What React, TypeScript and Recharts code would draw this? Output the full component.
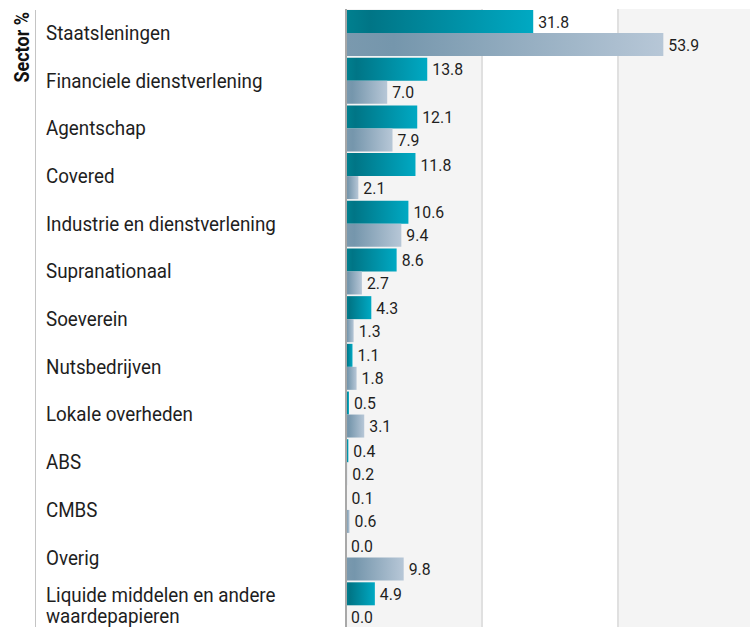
import React from 'react';
import { BarChart, Bar, XAxis, YAxis, CartesianGrid, LabelList, Text } from 'recharts';

const categories = [
  'Staatsleningen',
  'Financiele dienstverlening',
  'Agentschap',
  'Covered',
  'Industrie en dienstverlening',
  'Supranationaal',
  'Soeverein',
  'Nutsbedrijven',
  'Lokale overheden',
  'ABS',
  'CMBS',
  'Overig',
  'Liquide middelen en andere waardepapieren',
];
const fundValues = [31.8, 13.8, 12.1, 11.8, 10.6, 8.6, 4.3, 1.1, 0.5, 0.4, 0.1, 0.0, 4.9];
const benchmarkValues = [53.9, 7.0, 7.9, 2.1, 9.4, 2.7, 1.3, 1.8, 3.1, 0.2, 0.6, 9.8, 0.0];
const xTicks = [0, 23.1, 46.2, 69.3];
const axisTitle = 'Sector %';

const data = categories.map((name, i) => ({ name, fund: fundValues[i], bench: benchmarkValues[i] }));

const FONT = 'Roboto, "Noto Sans", sans-serif';
const SQ = 0.94;

const CategoryTick = (props: any) => {
  const { y, payload } = props;
  const x0 = 46;
  return (
    <g transform={`translate(${x0} 0) scale(${SQ} 1)`}>
      <Text
        x={0}
        y={y}
        width={300}
        textAnchor="start"
        verticalAnchor="middle"
        lineHeight="1.07em"
        fill="#1e1e1e"
        fontSize={20}
        fontFamily={FONT}
        style={{ fontFamily: FONT, fontSize: 20 }}
      >
        {payload.value}
      </Text>
    </g>
  );
};

const AxisTitle = (props: any) => {
  const vb = props.viewBox || { y: 9, height: 620 };
  return (
    <g>
      <line x1={35.5} x2={35.5} y1={vb.y + 1} y2={vb.y + vb.height + 20} stroke="#c4c4c4" strokeWidth={1} />
      <text
        x={0}
        y={0}
        transform="translate(28.5 12) rotate(-90) scale(0.9 1)"
        textAnchor="end"
        fontFamily={FONT}
        fontSize={20}
        fontWeight="bold"
        fill="#111"
      >
        {axisTitle}
      </text>
    </g>
  );
};

const ValueLabel = (props: any) => {
  const { x, y, width, height, value } = props;
  if (value == null) return null;
  const lx = Number(x) + Math.max(0, Number(width) || 0) + 5;
  const ly = Number(y) + Number(height) / 2;
  return (
    <text
      x={0}
      y={0}
      transform={`translate(${lx} ${ly}) scale(0.93 1)`}
      dy="0.355em"
      textAnchor="start"
      fontFamily={FONT}
      fontSize={17}
      fill="#1e1e1e"
    >
      {Number(value).toFixed(1)}
    </text>
  );
};

export default function App() {
  return (
    <div style={{ position: 'fixed', left: 0, top: 0, width: 750, height: 627, overflow: 'hidden', background: '#fff' }}>
      <BarChart
        width={760}
        height={640}
        data={data}
        layout="vertical"
        margin={{ top: 9, right: 6, bottom: 11, left: 0 }}
        barCategoryGap={1}
        barGap={0}
      >
        <defs>
          <linearGradient id="gTeal" x1="0" y1="0" x2="1" y2="0">
            <stop offset="0" stopColor="#00808f" />
            <stop offset="0.13" stopColor="#007586" />
            <stop offset="1" stopColor="#00a9c3" />
          </linearGradient>
          <linearGradient id="gGrey" x1="0" y1="0" x2="1" y2="0">
            <stop offset="0" stopColor="#7a99ae" />
            <stop offset="0.15" stopColor="#7596ac" />
            <stop offset="1" stopColor="#b7c7d7" />
          </linearGradient>
        </defs>
        <CartesianGrid
          horizontal={false}
          vertical={true}
          stroke="#e0e0e0"
          strokeWidth={2}
          verticalFill={['#f4f4f4', '#ffffff', '#f4f4f4']}
        />
        <XAxis type="number" domain={[0, 69.3]} ticks={xTicks} hide />
        <Bar dataKey="fund" fill="url(#gTeal)" minPointSize={0.01} isAnimationActive={false}>
          <LabelList dataKey="fund" content={<ValueLabel />} />
        </Bar>
        <Bar dataKey="bench" fill="url(#gGrey)" minPointSize={0.01} isAnimationActive={false}>
          <LabelList dataKey="bench" content={<ValueLabel />} />
        </Bar>
        <YAxis
          type="category"
          dataKey="name"
          width={346}
          axisLine={{ stroke: '#a8a8a8', strokeWidth: 2 }}
          tickLine={false}
          tick={<CategoryTick />}
          interval={0}
          label={<AxisTitle />}
        />
      </BarChart>
    </div>
  );
}
